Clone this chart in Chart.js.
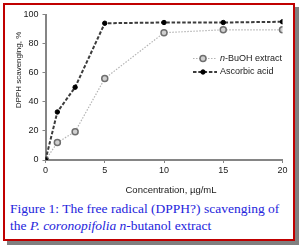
<!DOCTYPE html>
<html>
<head>
<meta charset="utf-8">
<script src="https://cdn.jsdelivr.net/npm/chart.js@4"></script>
<style>
  body { margin: 0; background: #fff; width: 301px; height: 246px; overflow: hidden; position: relative; }
  .marco {
    position: absolute; left: 3px; top: 3px; width: 288px; height: 234px;
    border: 2.5px solid #c00000; box-shadow: 4px 4px 0 #808080; background: #fff;
  }
  #grafica { position: absolute; left: 0; top: 0; }
  .pie {
    position: absolute; left: 10px; top: 201px; width: 285px;
    font-family: "Liberation Serif", serif; font-size: 13.5px; line-height: 16.5px;
    color: #2424dc; white-space: nowrap;
  }
</style>
</head>
<body>
<div class="marco"></div>
<canvas id="grafica" width="301" height="200"></canvas>
<div class="pie">Figure 1: The free radical (DPPH?) scavenging of<br>the <i>P. coronopifolia</i> <i>n</i>-butanol extract</div>
<script>
// Datos
const concentraciones = [0, 1, 2.5, 5, 10, 15, 20];
const valoresButanol = [0, 12, 19.5, 56, 87.5, 89.5, 89.5];
const valoresAscorbico = [0, 33, 50, 94, 94.5, 94.5, 95];
const nombresSeries = ['-BuOH extract', 'Ascorbic acid'];
const tituloX = 'Concentration, \u00b5g/mL';
const tituloY = 'DPPH scavenging, %';

const gris = '#858585';

// Titulos de ejes y leyenda a mano
const extras = {
  id: 'extras',
  afterDraw(chart) {
    const ctx = chart.ctx;
    ctx.save();
    ctx.fillStyle = '#1a1a1a';
    ctx.textBaseline = 'middle';
    // titulo eje x
    ctx.font = '9.5px "Liberation Sans", Arial, sans-serif';
    ctx.textAlign = 'center';
    ctx.fillText(tituloX, 171, 190);
    // titulo eje y
    ctx.save();
    ctx.translate(19, 70);
    ctx.rotate(-Math.PI / 2);
    ctx.font = '8px "Liberation Sans", Arial, sans-serif';
    ctx.fillText(tituloY, 0, 0);
    ctx.restore();
    // leyenda
    ctx.textAlign = 'left';
    ctx.font = '9px "Liberation Sans", Arial, sans-serif';
    chart.data.datasets.forEach((ds, i) => {
      const y = 58.5 + i * 13.5;
      ctx.beginPath();
      ctx.setLineDash(ds.borderDash);
      ctx.strokeStyle = ds.borderColor;
      ctx.lineWidth = ds.borderWidth;
      ctx.moveTo(193, y);
      ctx.lineTo(217, y);
      ctx.stroke();
      ctx.setLineDash([]);
      ctx.beginPath();
      ctx.arc(203, y, ds.pointRadius, 0, Math.PI * 2);
      ctx.fillStyle = ds.pointBackgroundColor;
      ctx.fill();
      ctx.lineWidth = ds.pointBorderWidth;
      ctx.strokeStyle = ds.pointBorderColor;
      ctx.stroke();
      ctx.fillStyle = '#1a1a1a';
      let x = 220;
      if (i === 0) {
        ctx.font = 'italic 9px "Liberation Sans", Arial, sans-serif';
        ctx.fillText('n', x, y);
        x += ctx.measureText('n').width;
        ctx.font = '9px "Liberation Sans", Arial, sans-serif';
      }
      ctx.fillText(ds.label, x, y);
    });
    ctx.restore();
  }
};

const puntos = (vals) => concentraciones.map((c, i) => ({ x: c, y: vals[i] }));

new Chart(document.getElementById('grafica'), {
  type: 'line',
  data: {
    datasets: [
      {
        label: nombresSeries[0],
        data: puntos(valoresButanol),
        borderColor: '#b4b4b4',
        borderWidth: 1.2,
        borderDash: [1.5, 1.5],
        pointRadius: 3,
        pointBackgroundColor: '#d0d0d0',
        pointBorderColor: '#6e6e6e',
        pointBorderWidth: 1.5,
        order: 1
      },
      {
        label: nombresSeries[1],
        data: puntos(valoresAscorbico),
        borderColor: '#3c3c3c',
        borderWidth: 2,
        borderDash: [3.5, 1.8],
        pointRadius: 2.2,
        pointBackgroundColor: '#000',
        pointBorderColor: '#000',
        pointBorderWidth: 1,
        order: 0
      }
    ]
  },
  options: {
    responsive: false,
    animation: false,
    layout: { padding: { left: 0, right: 18.5, top: 14.5, bottom: 0 } },
    plugins: { legend: { display: false }, tooltip: { enabled: false } },
    scales: {
      x: {
        type: 'linear',
        min: 0,
        max: 20,
        afterFit: (s) => { s.height = 40; },
        ticks: { stepSize: 5, color: '#1a1a1a', padding: 2, font: { family: '"Liberation Sans", Arial', size: 9 } },
        grid: { drawOnChartArea: false, drawTicks: true, tickLength: 3, color: gris, lineWidth: 1 },
        border: { color: gris, width: 2 }
      },
      y: {
        min: 0,
        max: 100,
        afterFit: (s) => { s.width = 45.5; },
        ticks: { stepSize: 20, color: '#1a1a1a', padding: 4, font: { family: '"Liberation Sans", Arial', size: 9 } },
        grid: { drawOnChartArea: false, drawTicks: true, tickLength: 3, color: gris, lineWidth: 1 },
        border: { color: gris, width: 2 }
      }
    }
  },
  plugins: [extras]
});
</script>
</body>
</html>
